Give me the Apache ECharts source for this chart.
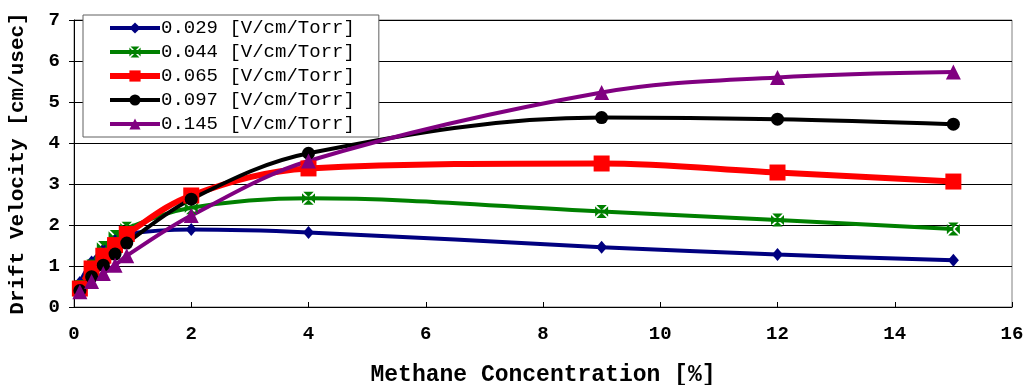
<!DOCTYPE html>
<html>
<head>
<meta charset="utf-8">
<script src="https://cdn.jsdelivr.net/npm/echarts@6/dist/echarts.min.js"></script>
<style>html,body{margin:0;padding:0;background:#fff;}#c{width:1025px;height:385px;}</style>
</head>
<body>
<div id="c"></div>
<script>
const concentrations = [0.1, 0.3, 0.5, 0.7, 0.9, 2, 4, 9, 12, 15];
const seriesNames = ['0.029 [V/cm/Torr]', '0.044 [V/cm/Torr]', '0.065 [V/cm/Torr]', '0.097 [V/cm/Torr]', '0.145 [V/cm/Torr]'];
const v0029 = [0.60, 1.10, 1.40, 1.62, 1.78, 1.89, 1.82, 1.46, 1.28, 1.14];
const v0044 = [0.50, 1.00, 1.45, 1.72, 1.92, 2.42, 2.65, 2.33, 2.12, 1.90];
const v0065 = [0.45, 0.94, 1.25, 1.51, 1.78, 2.72, 3.38, 3.50, 3.28, 3.06];
const v0097 = [0.40, 0.74, 1.02, 1.29, 1.56, 2.63, 3.75, 4.62, 4.58, 4.46];
const v0145 = [0.37, 0.62, 0.82, 1.02, 1.25, 2.23, 3.56, 5.23, 5.60, 5.73];
const xTicks = [0, 2, 4, 6, 8, 10, 12, 14, 16];
const yTicks = [0, 1, 2, 3, 4, 5, 6, 7];

const xSymbol = 'path://M1,0 L9,0 L5,4 Z M1,10 L9,10 L5,6 Z M0,1 L0,9 L4,5 Z M10,1 L10,9 L6,5 Z';
const styles = [
  {color: '#000080', width: 4, symbol: 'diamond', size: [11, 13]},
  {color: '#008000', width: 4, symbol: xSymbol, size: 13},
  {color: '#FF0000', width: 6, symbol: 'rect', size: 16},
  {color: '#000000', width: 4, symbol: 'circle', size: 13},
  {color: '#800080', width: 4, symbol: 'triangle', size: 15}
];
const values = [v0029, v0044, v0065, v0097, v0145];
const mono = '"Liberation Mono", "Courier New", "DejaVu Sans Mono", monospace';

const chart = echarts.init(document.getElementById('c'), null, {renderer: 'canvas'});
chart.setOption({
  animation: false,
  backgroundColor: '#fff',
  grid: {left: 74, right: 13, top: 20, bottom: 78, containLabel: false, outerBoundsMode: 'none',
         show: true, borderColor: '#808080', borderWidth: 1},
  legend: {
    left: 83, top: 15, orient: 'vertical',
    backgroundColor: '#fff', borderColor: '#606060', borderWidth: 1,
    padding: [3, 24, 3, 24],
    itemWidth: 50, itemHeight: 14, itemGap: 4,
    lineStyle: {width: 'inherit'},
    textStyle: {fontFamily: mono, fontSize: 19, lineHeight: 20, color: '#000', padding: [0, 0, 0, -4]},
    data: seriesNames
  },
  xAxis: {
    type: 'value', min: xTicks[0], max: xTicks[xTicks.length - 1], interval: 2,
    name: 'Methane Concentration [%]', nameLocation: 'middle', nameGap: 57,
    nameTextStyle: {fontFamily: mono, fontSize: 23, fontWeight: 'bold', color: '#000'},
    axisLine: {lineStyle: {color: '#000', width: 1}},
    axisTick: {inside: true, length: 5, lineStyle: {color: '#000'}},
    axisLabel: {fontFamily: mono, fontSize: 19, fontWeight: 'bold', color: '#000', margin: 18},
    splitLine: {show: false}
  },
  yAxis: {
    type: 'value', min: yTicks[0], max: yTicks[yTicks.length - 1], interval: 1,
    name: 'Drift Velocity [cm/usec]', nameLocation: 'middle', nameGap: 46,
    nameTextStyle: {fontFamily: mono, fontSize: 21, fontWeight: 'bold', color: '#000'},
    axisLine: {show: true, lineStyle: {color: '#000', width: 1}},
    axisTick: {show: true, length: 5, lineStyle: {color: '#000'}},
    axisLabel: {fontFamily: mono, fontSize: 19, fontWeight: 'bold', color: '#000', margin: 14},
    splitLine: {show: true, lineStyle: {color: '#000', width: 1}}
  },
  series: seriesNames.map((n, i) => ({
    name: n, type: 'line', smooth: 0.35,
    data: concentrations.map((x, j) => [x, values[i][j]]),
    symbol: styles[i].symbol, symbolSize: styles[i].size, showSymbol: true,
    lineStyle: {color: styles[i].color, width: styles[i].width},
    itemStyle: {color: styles[i].color, borderWidth: 0},
    emphasis: {disabled: true}
  }))
});
</script>
</body>
</html>
